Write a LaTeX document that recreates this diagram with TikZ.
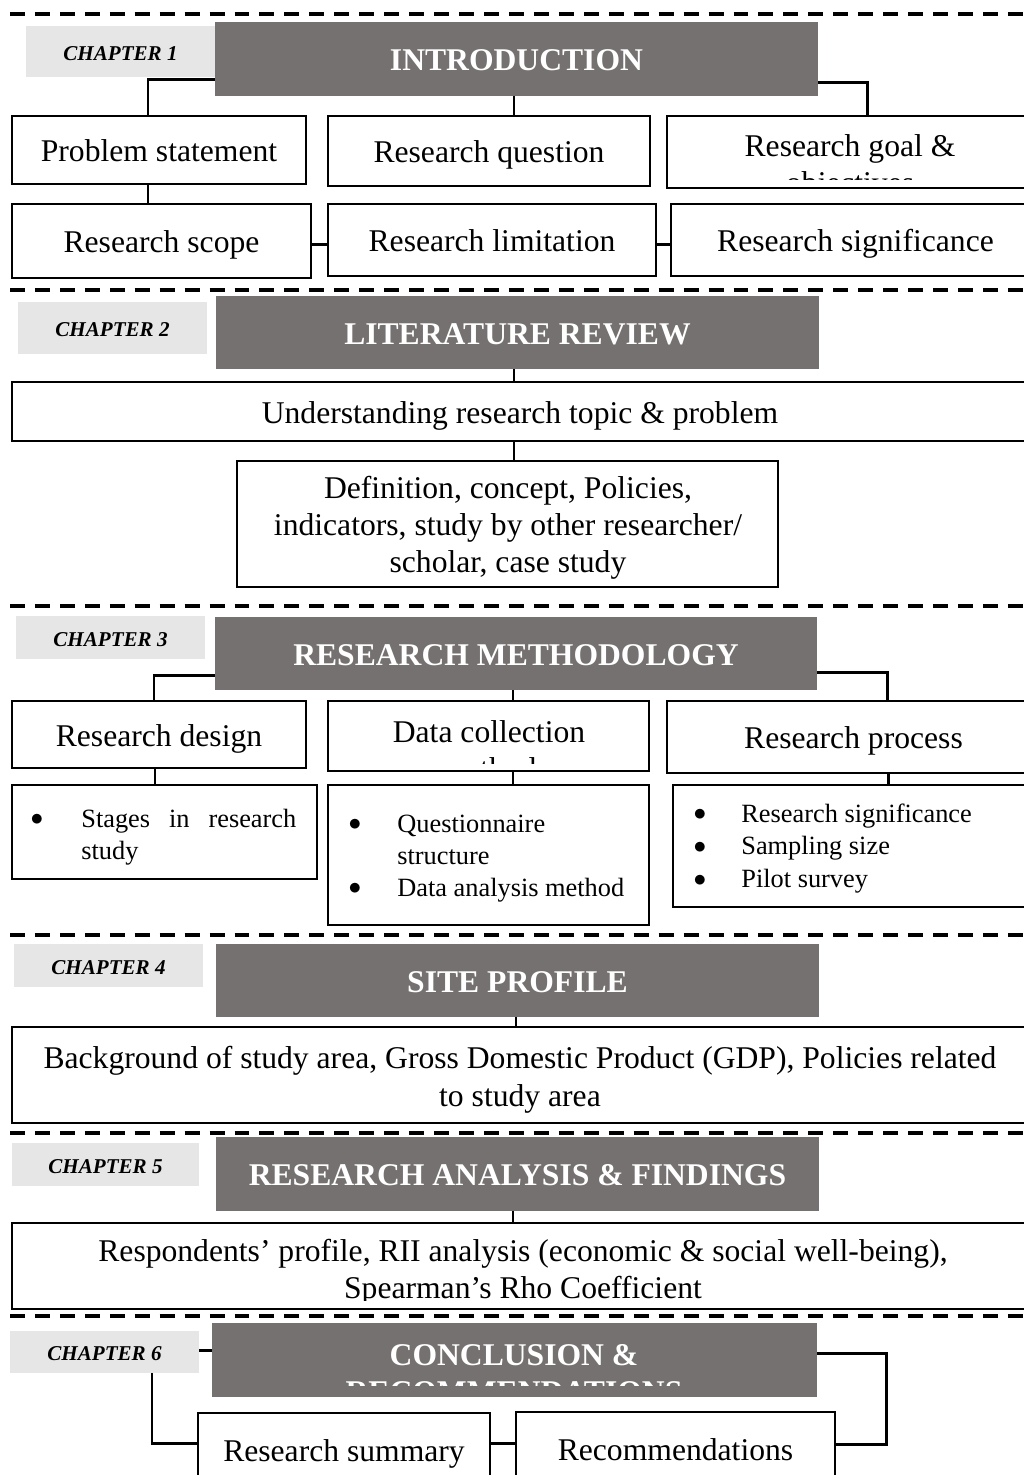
\documentclass[tikz,border=0pt]{standalone}
\usepackage{fontspec}
\setmainfont{Liberation Serif}
\usetikzlibrary{positioning}
\definecolor{headgray}{RGB}{117,113,112}
\definecolor{taggray}{RGB}{231,230,230}

\begin{document}
\begin{tikzpicture}[
  x=0.02cm, y=-0.02cm,
  wh/.style 2 args={minimum width=#1*0.02cm, minimum height=#2*0.02cm},
  chaptag/.style={fill=taggray, inner sep=0pt, text height=10pt, text depth=0pt, font=\fontsize{12}{14}\selectfont\bfseries\itshape},
  headbox/.style={fill=headgray, text=white, inner sep=0pt, text height=15pt, text depth=1.8pt, font=\fontsize{18}{21}\selectfont\bfseries},
  headtext/.style={inner sep=0pt, anchor=base, align=center, text=white, font=\fontsize{18}{21}\selectfont\bfseries},
  topicbox/.style={draw, line width=1.1pt, fill=white, inner sep=0pt, text height=16pt, text depth=2.4pt, font=\fontsize{18}{21}\selectfont},
  topictext/.style={inner sep=0pt, anchor=base, align=center, font=\fontsize{18}{21}\selectfont},
  itemdot/.style={inner sep=0pt, font=\fontsize{15}{18.5}\selectfont},
  itemtext/.style={inner sep=0pt, anchor=base west, align=left, font=\fontsize{15}{18.5}\selectfont},
  link/.style={line width=1.7pt},
  chapsep/.style={line width=2pt, dash pattern=on 8.5pt off 5.7pt}
]
  \clip (0,0) rectangle (1024,1475);
  \fill[white] (0,0) rectangle (1024,1475);

  % separators between chapters
  \foreach \y in {14,290,606,935,1133,1316}
    \draw[chapsep] (10,\y) -- (1040,\y);

  % chapter 1
  \node[chaptag, wh={189}{51}] (tag1) at (120.5,51.5) {CHAPTER 1};
  \node[headbox, wh={603}{74}] (head1) at (516.5,59) {INTRODUCTION};
  \node[topicbox, wh={294}{68}] (prob) at (159,150) {Problem statement};
  \node[topicbox, wh={322}{70}] (quest) at (489,151) {Research question};
  \node[topicbox, wh={373}{72}] (goal) at (853.5,152) {};
  \begin{scope}
    % second line runs out of the box
    \clip (goal.north west) rectangle ([shift={(0,-9)}]goal.south east);
    \node[topictext] (goaltxt) at (850,193) {Research goal \&\\objectives};
  \end{scope}
  \node[topicbox, wh={299}{74}] (scope) at (161.5,241) {Research scope};
  \node[topicbox, wh={328}{72}] (limit) at (492,240) {Research limitation};
  \node[topicbox, wh={369}{72}] (signif) at (855.5,240) {Research significance};
  \draw[link] (head1.west |- 0,79) -| (prob.north -| 148,0);
  \draw[link] (head1.south -| 514,0) -- (quest.north -| 514,0);
  \draw[link] (head1.east |- 0,82) -| (goal.north -| 867,0);
  \draw[link] (prob.south -| 148,0) -- (scope.north -| 148,0);
  \draw[link] (scope.east |- 0,244) -- (limit.west |- 0,244);
  \draw[link] (limit.east |- 0,244) -- (signif.west |- 0,244);

  % chapter 2
  \node[chaptag, wh={189}{52}] (tag2) at (112.5,328) {CHAPTER 2};
  \node[headbox, wh={603}{73}] (head2) at (517.5,332.5) {LITERATURE REVIEW};
  \node[topicbox, wh={1016}{59}] (underst) at (520,411.5) {Understanding research topic \& problem};
  \node[topicbox, wh={541}{126}] (defn) at (507.5,524) {};
  \begin{scope}
    \clip (defn.north west) rectangle ([shift={(0,-9)}]defn.south east);
    \node[topictext] (defntxt) at (508,572) {Definition, concept, Policies,\\indicators, study by other researcher/\\scholar, case study};
  \end{scope}
  \draw[link] (head2.south -| 514,0) -- (underst.north -| 514,0);
  \draw[link] (underst.south -| 514,0) -- (defn.north -| 514,0);

  % chapter 3
  \node[chaptag, wh={189}{43}] (tag3) at (110.5,637.5) {CHAPTER 3};
  \node[headbox, wh={602}{73}] (head3) at (516,653.5) {RESEARCH METHODOLOGY};
  \node[topicbox, wh={294}{67}] (design) at (159,734.5) {Research design};
  \node[topicbox, wh={321}{70}] (datacol) at (488.5,736) {};
  \begin{scope}
    \clip (datacol.north west) rectangle ([shift={(0,-8)}]datacol.south east);
    \node[topictext] (datacoltxt) at (489,779) {Data collection\\method};
  \end{scope}
  \node[topicbox, wh={373}{72}] (process) at (853.5,737) {Research process};
  \node[topicbox, wh={305}{94}] (stages) at (164.5,832) {};
  \node[topicbox, wh={321}{140}] (dataitems) at (488.5,855) {};
  \node[topicbox, wh={367}{122}] (procitems) at (856.5,846) {};
  \node[itemdot] (dotA) at (37,820) {$\bullet$};
  \node[itemtext] (txtA) at (81,859.6) {\makebox[4.3cm][s]{Stages in research}\\study};
  \node[itemdot] (dotB1) at (355,825) {$\bullet$};
  \node[itemtext] (txtB1) at (397,864.6) {Questionnaire\\structure};
  \node[itemdot] (dotB2) at (355,889) {$\bullet$};
  \node[itemtext] (txtB2) at (397,896) {Data analysis method};
  \foreach \y [count=\i] in {815,848,881}
    \node[itemdot] (dotC\i) at (700,\y) {$\bullet$};
  \node[itemtext] (txtC) at (741,887.2) {Research significance\\Sampling size\\Pilot survey};
  \draw[link] (head3.west |- 0,675) -| (design.north -| 154,0);
  \draw[link] (head3.south -| 513,0) -- (datacol.north -| 513,0);
  \draw[link] (head3.east |- 0,672) -| (process.north -| 887,0);
  \draw[link] (design.south -| 155,0) -- (stages.north -| 155,0);
  \draw[link] (datacol.south -| 513,0) -- (dataitems.north -| 513,0);
  \draw[link] (process.south -| 888,0) -- (procitems.north -| 888,0);

  % chapter 4
  \node[chaptag, wh={189}{43}] (tag4) at (108.5,965.5) {CHAPTER 4};
  \node[headbox, wh={603}{73}] (head4) at (517.5,980.5) {SITE PROFILE};
  \node[topicbox, wh={1016}{96}] (backgr) at (520,1075) {};
  \node[topictext, font=\fontsize{18}{21.5}\selectfont] (backgrtxt) at (520,1106)
    {Background of study area, Gross Domestic Product (GDP), Policies related\\to study area};
  \draw[link] (head4.south -| 516,0) -- (backgr.north -| 516,0);

  % chapter 5
  \node[chaptag, wh={187}{43}] (tag5) at (105.5,1164.5) {CHAPTER 5};
  \node[headbox, wh={603}{74}] (head5) at (517.5,1174) {RESEARCH ANALYSIS \& FINDINGS};
  \node[topicbox, wh={1016}{86}] (respond) at (520,1266) {};
  \begin{scope}
    \clip (respond.north west) rectangle ([shift={(0,-9)}]respond.south east);
    \node[topictext] (respondtxt) at (523,1298) {Respondents’ profile, RII analysis (economic \& social well-being),\\Spearman’s Rho Coefficient};
  \end{scope}
  \draw[link] (head5.south -| 513,0) -- (respond.north -| 513,0);

  % chapter 6
  \node[chaptag, wh={189}{42}] (tag6) at (104.5,1352) {CHAPTER 6};
  \node[headbox, wh={605}{74}] (head6) at (514.5,1360) {};
  \begin{scope}
    \clip (head6.north west) rectangle ([shift={(0,-12)}]head6.south east);
    \node[headtext] (head6txt) at (514,1402) {CONCLUSION \&\\RECOMMENDATIONS};
  \end{scope}
  \node[topicbox, wh={292}{74}] (summary) at (344,1450) {Research summary};
  \node[topicbox, wh={319}{74}] (recomm) at (675.5,1449) {Recommendations};
  \coordinate (turn6) at (886,1444);
  \draw[link] (tag6.east |- 0,1350) -- (head6.west |- 0,1350);
  \draw[link] (tag6.south -| 152,0) |- (summary.west |- 0,1443);
  \draw[link] (summary.east |- 0,1443) -- (recomm.west |- 0,1443);
  \draw[link] (head6.east |- 0,1353) -| (turn6) -- (recomm.east |- turn6);
\end{tikzpicture}
\end{document}
